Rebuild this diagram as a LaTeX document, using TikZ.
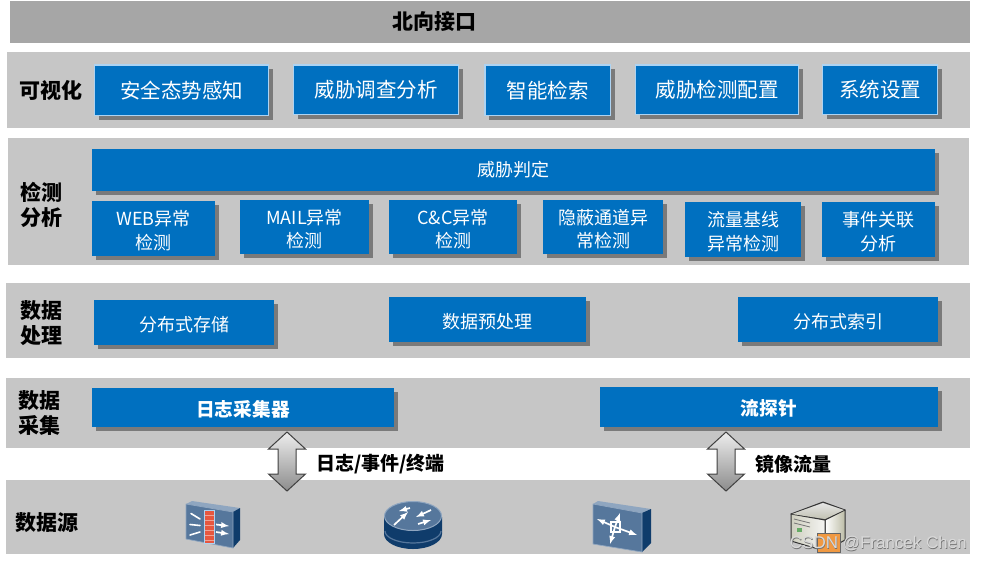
\documentclass[tikz,border=0pt]{standalone}
\usepackage{fontspec}
\setmainfont{Noto Sans CJK SC}
\newfontfamily\wmfont{Liberation Sans}
\usetikzlibrary{shadows,positioning}
\definecolor{bandgray}{HTML}{C6C6C6}
\definecolor{topgray}{HTML}{A6A6A6}
\definecolor{boxblue}{HTML}{0070C0}
\definecolor{edgeblue}{HTML}{ADD3F2}
\definecolor{iconface}{HTML}{56779C}
\definecolor{icondark}{HTML}{0F3C6B}
\definecolor{iconedge}{HTML}{8FA6C0}
\tikzset{
  band/.style={fill=bandgray,draw=none,inner sep=0pt,outer sep=0pt},
  topband/.style={fill=topgray,draw=none,inner sep=0pt,outer sep=0pt},
  bluebox/.style={fill=boxblue,draw=none,inner sep=0pt,outer sep=0pt,text=white,align=center,
    drop shadow={shadow xshift=4pt,shadow yshift=-4pt,fill=black,opacity=.38}},
  vizbox/.style={bluebox,draw=edgeblue,line width=1.2pt},
  lvl/.style={font=\fontsize{21}{25}\selectfont\bfseries,text=black,align=center,inner sep=0pt},
  txta/.style={font=\fontsize{20.5}{25}\selectfont},
  txtb/.style={font=\fontsize{18}{23.5}\selectfont},
  txtc/.style={font=\fontsize{18.7}{23}\selectfont\bfseries},
  flowlbl/.style={font=\fontsize{19}{23}\selectfont\bfseries,text=black,inner sep=0pt,anchor=west},
  bigarrow/.style={draw=black!75,line width=1pt,line join=miter,top color=black!7,bottom color=black!45},
  whitearrow/.style={draw=white,line width=1.7pt,-latex},
  iconline/.style={draw=iconedge,line width=.7pt,line join=round},
}
\newcommand{\tsup}{\rule{0pt}{19pt}}
% style, name, x1, y1, x2, y2, text
\newcommand{\pxbox}[7]{\node[#1,minimum width={(#5-#3)*1pt},minimum height={(#6-#4)*1pt},text width={(#5-#3)*1pt}] (#2) at ({(#3+#5)/2},{(#4+#6)/2}) {#7};}
% name prefix, centre x
\newcommand{\dblarrow}[2]{%
  \coordinate (#1top) at (#2,432);
  \coordinate (#1bot) at (#2,491);
  \path[bigarrow] (#1top) -- ([xshift=18.5pt,yshift=-17pt]#1top) -- ([xshift=9pt,yshift=-17pt]#1top)
    -- ([xshift=9pt,yshift=17pt]#1bot) -- ([xshift=18.5pt,yshift=17pt]#1bot) -- (#1bot)
    -- ([xshift=-18.5pt,yshift=17pt]#1bot) -- ([xshift=-9pt,yshift=17pt]#1bot)
    -- ([xshift=-9pt,yshift=-17pt]#1top) -- ([xshift=-18.5pt,yshift=-17pt]#1top) -- cycle;}
\begin{document}
\begin{tikzpicture}[x=1pt,y=-1pt]
\useasboundingbox (0,0) rectangle (981,560);
% bands
\pxbox{topband}{bNorth}{10}{1}{970}{43}{}
\pxbox{band}{bViz}{7}{52}{970}{128}{}
\pxbox{band}{bDet}{8}{138}{969}{265}{}
\pxbox{band}{bProc}{6}{283}{970}{358}{}
\pxbox{band}{bCol}{6}{378}{970}{448}{}
\pxbox{band}{bSrc}{6}{480}{970}{554}{}
% labels
\node[lvl] (tNorth) at (434,22) {北向接口};
\node[lvl] (tViz) at (50.5,90) {可视化};
\node[lvl] (tDet) at (41.5,204.5) {检测\\分析};
\node[lvl] (tProc) at (41,323) {数据\\处理};
\node[lvl] (tCol) at (39.5,413) {数据\\采集};
\node[lvl] (tSrc) at (47,523) {数据源};
% visual boxes
\pxbox{vizbox,txta}{v1}{94.5}{65}{268.5}{115.5}{安全态势感知}
\pxbox{vizbox,txta}{v2}{293.5}{65}{458.5}{114.5}{威胁调查分析}
\pxbox{vizbox,txta}{v3}{485}{65}{610.5}{115.5}{智能检索}
\pxbox{vizbox,txta}{v4}{635.5}{65}{798.5}{114.5}{威胁检测配置}
\pxbox{vizbox,txta}{v5}{822.5}{65}{937.5}{114.5}{系统设置}
% detection
\pxbox{bluebox,txtb}{d0}{92}{149}{935}{191}{威胁判定}
\pxbox{bluebox,txtb}{d1}{92}{201}{215}{256}{\tsup WEB异常\\检测}
\pxbox{bluebox,txtb}{d2}{240}{200}{369}{254}{\tsup MAIL异常\\检测}
\pxbox{bluebox,txtb}{d3}{389}{200}{517}{254}{\tsup C\&C异常\\检测}
\pxbox{bluebox,txtb}{d4}{543}{200}{663}{254}{\tsup 隐蔽通道异\\常检测}
\pxbox{bluebox,txtb}{d5}{685}{202}{801}{257}{\tsup 流量基线\\异常检测}
\pxbox{bluebox,txtb}{d6}{822}{202}{935}{257}{\tsup 事件关联\\分析}
% processing
\pxbox{bluebox,txtb}{p1}{94}{300}{274}{345}{\tsup 分布式存储}
\pxbox{bluebox,txtb}{p2}{389}{297}{586}{342}{\tsup 数据预处理}
\pxbox{bluebox,txtb}{p3}{738}{297}{938}{342}{\tsup 分布式索引}
% collection
\pxbox{bluebox,txtc}{c1}{92}{388}{394}{427}{\tsup 日志采集器}
\pxbox{bluebox,txtc}{c2}{600}{387}{938}{427}{\tsup 流探针}
% flow arrows
\dblarrow{fa}{287}
\dblarrow{fb}{726}
\node[flowlbl] (fl1) at (316,464) {日志/事件/终端};
\node[flowlbl] (fl2) at (755,464) {镜像流量};
% firewall icon
\fill[iconedge] (186,504) -- (192,501) -- (240,508) -- (233,512) -- cycle;
\fill[icondark] (233,512) -- (240,508) -- (240,540) -- (233,548) -- cycle;
\path[fill=iconface,iconline] (186,504) -- (233,512) -- (233,548) -- (186,539) -- cycle;
\path[fill=red!55!brown!85,draw=edgeblue,line width=1pt] (204.5,510.5) rectangle (214,543);
\foreach \yy in {515,520,525,530,535,540}{\draw[white,opacity=.45,line width=.6pt] (205,\yy) -- (213.5,\yy);}
\draw[white,line width=1.6pt,line cap=round] (191,513.5) -- (200,519);
\draw[white,line width=1.6pt,line cap=round] (190,524.5) -- (200,525.5);
\draw[white,line width=1.6pt,line cap=round] (190,535) -- (200,532);
\draw[whitearrow] (216,524.5) -- (229,526);
\draw[whitearrow] (216,532) -- (229,534);
% router icon
\fill[icondark] (384,517) -- (384,534) arc[start angle=180,end angle=0,x radius=29,y radius=15] -- (442,517) -- cycle;
\draw[iconface,line width=1.2pt] (385,531) arc[start angle=180,end angle=0,x radius=28,y radius=12];
\path[fill=iconface,draw=iconedge,line width=1pt] (413,516) ellipse[x radius=28.5,y radius=14.5];
\draw[whitearrow] (394,525) -- (408,512);
\draw[whitearrow] (431,510) -- (416,517);
\draw[whitearrow] (418,524) -- (431,520);
\draw[whitearrow] (410,508) -- (399,511);
% switch icon
\fill[iconedge] (593,504) -- (598,501) -- (651,509) -- (642,513) -- cycle;
\fill[icondark] (642,513) -- (651,509) -- (651,543) -- (642,552) -- cycle;
\path[fill=iconface,iconline] (593,504) -- (642,513) -- (642,552) -- (593,544) -- cycle;
\draw[whitearrow] (615,527) -- (597,519);
\draw[whitearrow] (615,527) -- (620,513);
\draw[whitearrow] (615,527) -- (637,535);
\draw[whitearrow] (615,527) -- (610,544);
\draw[white,line width=1.4pt] (611,522) rectangle (620,532);
% server icon
\path[fill=black!55,draw=black!80,line width=1pt,line join=round] (791,514) -- (823,502) -- (845,510) -- (825,520) -- cycle;
\path[left color=white,right color=yellow!25!black!35,draw=black!80,line width=1pt,line join=round] (825,520) -- (845,510) -- (845,540) -- (825,551) -- cycle;
\path[left color=yellow!25!black!25,right color=yellow!15!black!5,draw=black!80,line width=1pt,line join=round] (791,514) -- (825,520) -- (825,551) -- (791,541) -- cycle;
\path[top color=black!10,bottom color=yellow!20!black!30,draw=none] (792,514) -- (823,503) -- (844,510) -- (825,519) -- cycle;
\draw[black!55,line width=.8pt] (794,519) -- (810,523);
\draw[black!55,line width=.8pt] (794,523) -- (810,527);
\fill[green!45!black!60] (797,528) rectangle (802,532);
\path[fill=orange!70!brown!80,draw=black!60,line width=.7pt] (817,533) rectangle (840,552);
% watermark
\node[font=\wmfont\fontsize{17}{20}\selectfont,text=black!55,inner sep=0pt,anchor=east] (wms) at (967.6,544.2) {CSDN @Francek Chen};
\node[font=\wmfont\fontsize{17}{20}\selectfont,text=white!85!black,inner sep=0pt,anchor=east] (wm) at (967,543.5) {CSDN @Francek Chen};
\end{tikzpicture}
\end{document}
